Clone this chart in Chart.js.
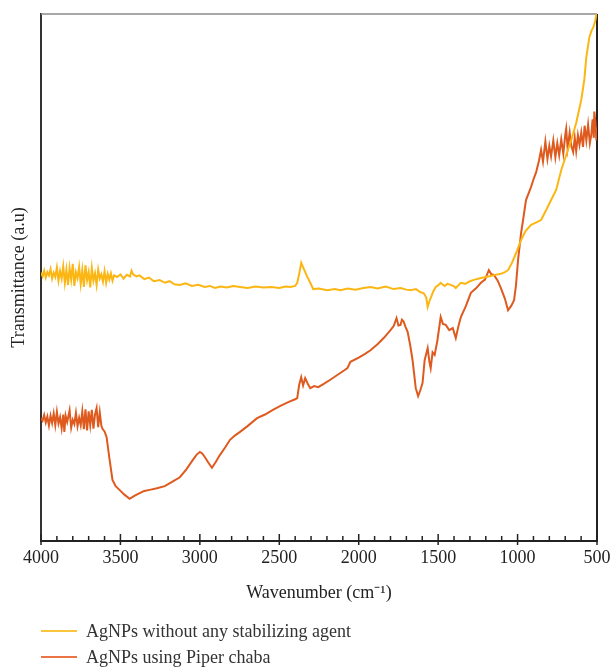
<!DOCTYPE html>
<html>
<head>
<meta charset="utf-8">
<script src="https://cdn.jsdelivr.net/npm/chart.js@4.4.1/dist/chart.umd.min.js"></script>
<style>
  body { margin: 0; background: #fff; }
  #wrap { position: relative; width: 613px; height: 669px; }
  #legend { position: absolute; left: 41px; top: 618px; font-family: "Liberation Serif", serif; font-size: 18px; color: #333; }
  .item { display: flex; align-items: center; height: 26px; }
  .swatch { width: 36px; height: 2px; margin-right: 9px; }
</style>
</head>
<body>
<div id="wrap">
  <canvas id="ftirChart" width="613" height="669"></canvas>
  <div id="legend"></div>
</div>
<script>
// FTIR spectra, values (transmittance in arbitrary units 0-100)
const plainLabel = 'AgNPs without any stabilizing agent';
const piperLabel = 'AgNPs using Piper chaba';

const plainWn = [4000, 3990, 3980, 3970, 3960, 3950, 3940, 3930, 3920, 3910, 3900, 3890, 3880, 3870, 3860,
  3850, 3840, 3830, 3820, 3810, 3800, 3790, 3780, 3770, 3760, 3750, 3740, 3730, 3720, 3710, 3700, 3690,
  3680, 3670, 3660, 3650, 3640, 3630, 3620, 3610, 3600, 3590, 3580, 3570, 3560, 3550, 3540, 3520, 3500,
  3480, 3460, 3440, 3430, 3420, 3400, 3380, 3350, 3320, 3290, 3253, 3220, 3190, 3160, 3126, 3090, 3050,
  3010, 2970, 2937, 2905, 2870, 2830, 2790, 2747, 2700, 2650, 2600, 2550, 2500, 2460, 2431, 2400, 2387,
  2375, 2362, 2345, 2325, 2305, 2286, 2250, 2200, 2150, 2115, 2070, 2020, 1970, 1926, 1880, 1830, 1780,
  1737, 1700, 1673, 1640, 1610, 1590, 1575, 1566, 1555, 1547, 1530, 1515, 1500, 1484, 1460, 1440, 1421,
  1400, 1389, 1370, 1357, 1330, 1300, 1270, 1231, 1200, 1170, 1140, 1105, 1080, 1060, 1035, 1010, 978,
  950, 915, 885, 852, 820, 789, 757, 725, 694, 662, 631, 599, 580, 567, 548, 535, 523, 510, 504, 500];
const plainT = [50.9, 50.2, 51.3, 50.0, 51.0, 50.4, 51.6, 49.8, 50.9, 50.1, 51.9, 49.4, 51.2, 49.8, 52.1,
  49.0, 51.5, 48.6, 51.8, 49.6, 52.6, 48.4, 51.0, 49.9, 52.0, 48.8, 51.4, 48.2, 52.3, 49.5, 51.0, 48.1,
  51.8, 49.4, 50.8, 48.6, 51.5, 49.8, 50.6, 49.2, 51.2, 49.0, 50.7, 49.6, 50.8, 49.4, 50.4, 50.1, 50.6,
  49.8, 50.5, 50.2, 51.3, 50.6, 50.2, 50.4, 49.7, 50.0, 49.3, 49.5, 49.0, 49.3, 48.7, 48.6, 48.9, 48.4,
  48.6, 48.2, 48.4, 48.0, 48.3, 48.1, 48.4, 48.2, 48.0, 48.3, 48.1, 48.2, 48.0, 48.3, 48.2, 48.4, 49.0,
  50.6, 52.8, 51.6, 50.2, 49.0, 47.8, 47.9, 47.6, 47.8, 47.6, 47.9, 47.7, 48.0, 48.2, 47.9, 48.3, 47.8,
  48.0, 47.7, 47.6, 47.8, 47.2, 47.0, 46.2, 44.4, 45.5, 46.1, 47.4, 48.2, 48.5, 49.0, 48.4, 48.8, 48.6,
  48.3, 48.0, 48.6, 49.0, 48.8, 49.3, 49.6, 49.9, 50.1, 50.3, 50.5, 50.7, 51.0, 51.4, 52.8, 54.6, 57.1,
  58.8, 60.0, 60.4, 60.9, 62.8, 64.7, 66.6, 70.4, 73.2, 76.1, 79.3, 83.7, 87.5, 91.8, 95.6, 96.8, 97.5,
  98.8, 100, 100];

const piperWn = [4000, 3990, 3980, 3970, 3960, 3950, 3940, 3930, 3920, 3910, 3900, 3890, 3880, 3870, 3860,
  3853, 3845, 3835, 3820, 3810, 3800, 3790, 3780, 3770, 3760, 3750, 3740, 3730, 3720, 3710, 3700, 3690,
  3680, 3670, 3660, 3650, 3640, 3630, 3620, 3613, 3600, 3587, 3570, 3550, 3530, 3506, 3475, 3442, 3410,
  3379, 3350, 3316, 3270, 3221, 3175, 3126, 3085, 3044, 3020, 3000, 2985, 2968, 2945, 2924, 2900, 2874,
  2840, 2810, 2780, 2747, 2700, 2640, 2590, 2540, 2490, 2440, 2400, 2387, 2375, 2362, 2350, 2337, 2320,
  2305, 2280, 2255, 2220, 2179, 2130, 2090, 2071, 2052, 2000, 1960, 1926, 1880, 1840, 1800, 1780, 1762,
  1750, 1737, 1728, 1718, 1705, 1692, 1675, 1661, 1641, 1626, 1612, 1598, 1585, 1566, 1555, 1547, 1535,
  1522, 1505, 1484, 1470, 1452, 1430, 1408, 1389, 1372, 1357, 1325, 1294, 1260, 1231, 1205, 1181, 1165,
  1149, 1125, 1105, 1080, 1060, 1040, 1022, 1010, 997, 978, 960, 947, 930, 915, 900, 883, 865, 852, 840,
  825, 812, 800, 789, 775, 762, 750, 738, 725, 712, 700, 694, 685, 672, 662, 650, 640, 631, 620, 610, 599,
  588, 578, 567, 556, 545, 536, 528, 520, 517, 510, 504, 500];
const piperT = [23.3, 22.8, 23.9, 22.5, 23.6, 21.9, 23.8, 22.4, 24.2, 22.0, 24.5, 22.3, 23.5, 21.4, 24.0,
  20.7, 23.8, 22.6, 24.8, 21.5, 23.0, 22.2, 24.3, 21.8, 23.4, 22.0, 24.6, 21.2, 25.0, 21.0, 24.6, 22.0,
  24.9, 21.3, 24.0, 25.2, 21.6, 24.4, 21.9, 21.3, 20.8, 19.7, 15.8, 11.6, 10.4, 9.7, 8.8, 8.0, 8.6,
  9.1, 9.5, 9.7, 10.0, 10.4, 11.2, 12.1, 13.6, 15.4, 16.4, 16.9, 16.6, 15.9, 14.8, 13.9, 15.0, 16.3,
  17.8, 19.2, 20.0, 20.7, 21.8, 23.3, 24.0, 24.9, 25.7, 26.4, 26.9, 27.1, 29.6, 31.1, 29.5, 30.9, 29.8,
  29.0, 29.4, 29.2, 29.8, 30.6, 31.6, 32.4, 32.8, 34.0, 34.8, 35.5, 36.2, 37.4, 38.6, 40.0, 40.8, 42.3,
  40.9, 41.0, 42.0, 41.7, 40.6, 39.7, 37.0, 34.3, 29.0, 27.5, 28.6, 30.0, 34.3, 36.6, 34.0, 32.8, 35.8,
  35.3, 38.0, 42.5, 41.2, 41.0, 40.0, 40.4, 38.5, 40.8, 42.5, 44.6, 47.1, 48.0, 49.0, 49.6, 51.4, 50.6,
  50.5, 49.4, 48.0, 46.0, 43.8, 44.6, 45.7, 48.5, 53.3, 58.4, 62.0, 64.7, 66.0, 67.2, 68.6, 70.0, 72.2,
  74.2, 72.0, 75.8, 72.5, 75.0, 73.0, 76.0, 72.8, 75.5, 73.2, 76.2, 73.5, 77.0, 78.2, 74.5, 77.5, 75.0,
  73.8, 76.5, 74.0, 77.0, 75.2, 77.5, 74.8, 78.8, 76.0, 79.0, 75.5, 77.0, 80.0, 76.5, 81.5, 79.5, 76.0,
  78.5];

const xTicksMajor = 500;
const xTicksMinor = 100;

const toPoints = (wn, t) => wn.map((w, i) => ({ x: w, y: t[i] }));

// draws the frame and the inward ticks under the curves
const frameAndTicks = {
    id: 'frameAndTicks',
    beforeDatasetsDraw(chart) {
        const { ctx, chartArea, scales } = chart;
        ctx.save();
        ctx.strokeStyle = '#8a8a8a';
        ctx.lineWidth = 1.5;
        ctx.beginPath();
        ctx.moveTo(chartArea.left, chartArea.top);
        ctx.lineTo(chartArea.right, chartArea.top);
        ctx.stroke();
        ctx.strokeStyle = '#222';
        ctx.lineWidth = 2;
        ctx.beginPath();
        ctx.moveTo(chartArea.right, chartArea.top);
        ctx.lineTo(chartArea.right, chartArea.bottom);
        ctx.stroke();
        ctx.lineWidth = 1.5;
        for (let v = scales.x.min; v <= scales.x.max; v += xTicksMinor) {
            const px = scales.x.getPixelForValue(v);
            const major = v % xTicksMajor === 0;
            ctx.beginPath();
            ctx.moveTo(px, chartArea.bottom + (major ? 4 : 0));
            ctx.lineTo(px, chartArea.bottom - (major ? 7 : 5));
            ctx.stroke();
        }
        ctx.restore();
    }
};

const serif = { family: '"Liberation Serif", "Times New Roman", serif', size: 18 };

new Chart(document.getElementById('ftirChart'), {
    type: 'line',
    data: {
        datasets: [
            {
                label: plainLabel,
                data: toPoints(plainWn, plainT),
                borderColor: '#fbb614',
                borderWidth: 2,
                pointRadius: 0,
                tension: 0
            },
            {
                label: piperLabel,
                data: toPoints(piperWn, piperT),
                borderColor: '#df5a1e',
                borderWidth: 2,
                pointRadius: 0,
                tension: 0
            }
        ]
    },
    options: {
        responsive: false,
        animation: false,
        layout: { padding: { top: 14, right: 16, bottom: 58, left: 0 } },
        plugins: { legend: { display: false }, tooltip: { enabled: false } },
        scales: {
            x: {
                type: 'linear',
                reverse: true,
                min: 500,
                max: 4000,
                grid: { display: false },
                border: { display: true, color: '#222', width: 2 },
                ticks: { stepSize: xTicksMajor, color: '#222', font: serif, padding: -2, callback: (v) => String(v) },
                title: { display: true, text: 'Wavenumber (cm⁻¹)', color: '#222', font: serif, padding: { top: 0, bottom: 7 } },
                afterFit: (scale) => { scale.height = 70; }
            },
            y: {
                min: 0,
                max: 100,
                grid: { display: false },
                border: { display: true, color: '#333', width: 2 },
                ticks: { display: false },
                title: { display: true, text: 'Transmittance (a.u)', color: '#222', font: serif, padding: { top: 8, bottom: 0 } },
                afterFit: (scale) => { scale.width = 41; }
            }
        }
    },
    plugins: [frameAndTicks]
});

// legend as text below the chart
const legendEl = document.getElementById('legend');
[[plainLabel, '#f8c53c'], [piperLabel, '#ec7444']].forEach(([text, color]) => {
    const item = document.createElement('div');
    item.className = 'item';
    item.innerHTML = '<span class="swatch" style="background:' + color + '"></span><span>' + text + '</span>';
    legendEl.appendChild(item);
});
</script>
</body>
</html>
